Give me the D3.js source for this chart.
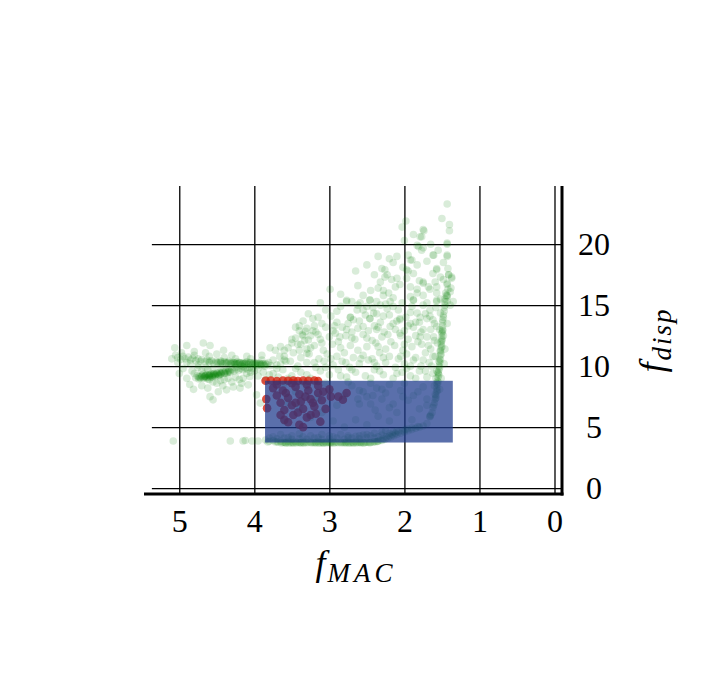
<!DOCTYPE html>
<html><head><meta charset="utf-8">
<script src="https://cdn.jsdelivr.net/npm/d3@7"></script>
<style>html,body{margin:0;padding:0;background:#fff;}svg{display:block;}</style>
</head><body>
<script>
// ---------- data ----------
const xTicks = [5, 4, 3, 2, 1, 0];
const yTicks = [0, 5, 10, 15, 20];
const xLabel = "f", xSub = "MAC";
const yLabel = "f", ySub = "disp";

// feasible region rectangle
const regionX = [3.857, 1.355];
const regionY = [3.74, 8.8];

// green: left horizontal band (upper streak)
const greenBandUpper = [[5.02,10.7],[4.98,10.55],[4.95,10.8],[4.92,10.6],[4.88,10.75],[4.85,10.5],[4.82,10.65],[4.78,10.45],[4.75,10.6],[4.72,10.4],[4.7,10.55],[4.66,10.35],[4.63,10.5],[4.6,10.3],[4.57,10.45],[4.54,10.25],[4.51,10.4],[4.48,10.3],[4.45,10.45],[4.42,10.2],[4.4,10.35],[4.37,10.25],[4.34,10.4],[4.31,10.2],[4.28,10.3],[4.26,10.15],[4.23,10.35],[4.2,10.25],[4.18,10.1],[4.15,10.3],[4.13,10.2],[4.1,10.35],[4.08,10.15],[4.05,10.25],[4.03,10.1],[4.0,10.3],[3.98,10.2],[3.96,10.05],[3.93,10.25],[3.91,10.1],[3.88,10.2],[3.86,10.0],[3.83,10.15],[3.81,10.3],[3.78,10.05],[4.3,10.3],[4.25,10.25],[4.2,10.3],[4.16,10.2],[4.12,10.25],[4.07,10.3],[4.02,10.2],[3.97,10.25],[3.92,10.15],[3.87,10.1],[4.35,10.3],[4.44,10.35],[4.5,10.3],[4.6,10.4],[4.22,10.2],[4.1,10.2],[3.99,10.15],[3.9,10.2],[4.45,10.28],[4.38,10.3],[4.32,10.25],[4.27,10.3],[4.18,10.28],[4.14,10.22],[4.05,10.3],[3.95,10.2],[3.85,10.2],[4.24,10.2]];
// green: left band (lower sloped streak)
const greenBandLower = [[4.78,9.05],[4.76,9.2],[4.74,8.95],[4.72,9.1],[4.7,9.25],[4.68,9.0],[4.66,9.15],[4.64,9.3],[4.62,9.1],[4.6,9.25],[4.58,9.4],[4.56,9.2],[4.54,9.35],[4.52,9.15],[4.5,9.45],[4.48,9.3],[4.46,9.5],[4.44,9.35],[4.42,9.55],[4.4,9.4],[4.38,9.6],[4.36,9.45],[4.34,9.65],[4.32,9.5],[4.3,9.7],[4.27,9.6],[4.24,9.75],[4.21,9.65],[4.18,9.8],[4.15,9.7],[4.12,9.85],[4.09,9.75],[4.06,9.9],[4.03,9.8],[4.7,9.15],[4.65,9.2],[4.6,9.3],[4.55,9.3],[4.5,9.35],[4.45,9.4],[4.4,9.5],[4.35,9.55],[4.68,9.35],[4.62,8.95],[4.58,9.1],[4.52,9.3],[4.66,9.2],[4.62,9.3],[4.58,9.25],[4.54,9.4],[4.49,9.4],[4.44,9.45],[4.72,9.0],[4.64,9.05],[4.56,9.1],[4.48,9.2],[4.74,9.12],[4.67,9.08],[4.6,9.18],[4.53,9.24],[4.46,9.3],[4.39,9.42],[4.33,9.55]];
// green: scatter around the left band
const greenLeftScatter = [[5.06,11.5],[4.9,11.7],[4.68,11.9],[4.59,11.7],[4.41,11.3],[3.79,11.5],[3.72,11.3],[3.75,10.5],[3.7,10.1],[4.9,9.0],[4.86,8.5],[4.81,8.1],[4.59,7.5],[4.55,7.24],[4.48,7.9],[4.37,8.06],[4.28,8.3],[4.19,8.2],[4.08,8.47],[3.97,7.65],[3.92,6.97],[4.15,9.0],[4.06,9.15],[4.17,8.6],[5.0,9.4],[4.95,9.8],[4.83,9.6],[4.75,9.9],[4.62,9.75],[4.55,8.7],[4.45,8.8],[4.35,9.0],[4.25,9.1],[4.3,8.7],[4.1,9.4],[4.0,9.6],[3.95,9.2],[3.88,9.5],[3.85,8.9],[3.8,9.3],[4.5,11.0],[4.3,10.9],[4.1,10.8],[3.9,10.9],[4.8,11.2],[4.65,11.1],[3.66,10.8],[3.6,11.3],[3.7,9.8],[3.6,10.5],[3.55,9.0],[3.65,11.6],[3.5,12.2],[5.05,10.9],[4.97,11.1],[4.85,10.2],[4.75,10.1],[4.65,9.9],[4.55,9.8],[4.45,9.9],[4.35,9.8],[4.25,9.9],[4.15,9.95],[4.05,9.5],[3.95,9.8],[4.9,10.3],[4.8,9.4],[4.7,9.6],[4.6,8.9],[4.5,8.6],[4.4,8.9],[4.2,8.9],[4.25,10.6],[4.05,10.6],[3.9,10.5],[4.4,10.7],[4.6,10.8],[4.8,10.9],[5.1,10.6],[5.02,10.3],[4.7,8.4],[4.62,8.2],[4.42,8.4]];
// green: bottom band near f_disp = 4
const greenBottom = [[5.08,3.87],[4.32,3.87],[4.15,3.87],[4.03,3.87],[3.95,3.87],[4.12,3.9],[3.85,3.95],[3.8,3.85],[3.75,3.9],[3.7,3.8],[3.65,3.85],[3.6,3.75],[3.55,3.8],[3.5,3.72],[3.45,3.78],[3.4,3.72],[3.35,3.75],[3.3,3.72],[3.25,3.76],[3.2,3.73],[3.15,3.78],[3.1,3.74],[3.05,3.77],[3.0,3.73],[2.95,3.78],[2.9,3.74],[2.85,3.77],[2.8,3.73],[2.75,3.76],[2.7,3.74],[2.65,3.78],[2.6,3.75],[2.55,3.73],[2.5,3.77],[2.45,3.74],[2.4,3.8],[2.35,3.85],[2.3,3.9],[2.26,4.0],[2.22,4.1],[2.18,4.2],[2.14,4.3],[2.1,4.4],[2.05,4.5],[2.0,4.6],[1.95,4.7],[1.9,4.8],[1.85,4.9],[1.8,5.0],[3.8,4.1],[3.7,4.05],[3.6,4.1],[3.5,4.0],[3.4,4.05],[3.3,4.0],[3.2,4.1],[3.1,4.0],[3.0,4.05],[2.9,4.1],[2.8,4.0],[2.7,4.1],[2.6,4.05],[2.5,4.15],[2.45,4.3],[2.4,4.1],[2.35,4.2],[2.3,4.35],[2.55,4.35],[2.65,4.25],[2.75,4.3],[3.0,4.3],[3.25,4.3],[3.5,4.3],[2.2,4.5],[2.15,4.6],[2.1,4.7],[3.62,3.74],[3.42,3.76],[3.22,3.74],[3.02,3.76],[2.82,3.75],[2.62,3.74],[2.42,3.76],[3.72,3.78],[3.52,3.74],[3.32,3.77],[3.12,3.73],[2.92,3.76],[2.72,3.73],[2.52,3.75],[2.38,3.8],[3.82,3.78],[3.68,3.76],[3.58,3.73],[3.48,3.76],[3.38,3.74],[3.28,3.75],[3.18,3.76],[3.08,3.73],[2.98,3.75],[2.88,3.73],[2.78,3.76],[2.68,3.75],[2.58,3.77],[2.48,3.74],[2.36,3.83],[2.32,3.95],[2.28,4.05],[2.24,4.2],[2.2,4.3],[2.16,4.4],[2.12,4.5],[2.08,4.6],[2.02,4.7],[1.96,4.85],[1.9,4.95],[1.82,5.05],[1.75,5.1],[1.7,5.3],[3.75,4.2],[3.55,4.15],[3.35,4.2],[3.15,4.15],[2.95,4.2],[2.75,4.15],[2.6,4.3],[2.5,4.4],[2.4,4.5],[2.3,4.6],[2.25,4.7],[2.85,4.4],[3.1,4.4],[3.4,4.45],[3.65,4.4],[3.64,3.7],[3.54,3.69],[3.44,3.7],[3.34,3.69],[3.24,3.7],[3.14,3.69],[3.04,3.7],[2.94,3.69],[2.84,3.7],[2.74,3.69],[2.64,3.7],[2.54,3.71],[2.46,3.72],[3.58,3.7],[3.38,3.71],[3.18,3.7],[2.98,3.71],[2.78,3.7],[2.58,3.71],[3.48,3.69],[3.08,3.69],[2.68,3.69]];
// green: cloud hidden under the region rectangle
const greenInRect = [[3.45,7.9],[3.3,8.3],[3.15,7.4],[3.0,8.0],[2.9,6.8],[2.8,7.6],[2.7,8.4],[2.6,6.9],[2.5,7.5],[2.37,8.2],[2.39,6.4],[2.25,7.8],[2.15,6.9],[2.05,8.0],[1.95,7.2],[1.88,7.6],[1.8,6.5],[1.75,8.3],[1.66,5.9],[1.7,6.8],[1.99,4.8],[2.2,5.5],[2.35,5.9],[2.5,5.2],[2.65,5.6],[2.8,5.0],[2.95,5.5],[3.1,6.2],[3.25,5.8],[3.4,6.5],[3.55,7.0],[3.6,5.5],[2.45,6.9],[2.3,7.3],[2.1,6.2],[1.9,5.6],[2.6,8.0],[2.0,8.6],[2.2,8.5],[2.45,8.6],[2.75,8.7],[3.05,8.6],[3.35,8.7],[3.6,8.6],[2.55,7.9],[2.42,7.6],[2.3,8.1],[2.62,7.3],[2.2,6.6],[2.02,7.5],[1.82,7.9],[1.7,7.3]];
// green: near-vertical column around f_MAC = 1.5
const greenColumn = [[1.66,5.85],[1.63,6.2],[1.62,6.6],[1.6,7.0],[1.59,7.3],[1.58,7.6],[1.57,7.9],[1.57,8.2],[1.56,8.5],[1.56,8.8],[1.55,9.1],[1.55,9.4],[1.54,9.7],[1.54,10.0],[1.53,10.3],[1.53,10.6],[1.52,10.9],[1.52,11.2],[1.51,11.5],[1.51,11.8],[1.5,12.1],[1.5,12.4],[1.5,12.7],[1.49,13.0],[1.49,13.3],[1.49,13.6],[1.48,14.0],[1.47,14.5],[1.46,15.0],[1.46,15.5],[1.45,16.0],[1.58,7.4],[1.56,8.0],[1.55,8.7],[1.54,9.3],[1.53,9.9],[1.52,10.5],[1.51,11.0],[1.5,11.6],[1.5,12.2],[1.49,12.9],[1.6,8.4],[1.58,9.0],[1.57,9.6],[1.47,10.2],[1.46,11.4],[1.48,12.5],[1.43,20.1],[1.43,19.1],[1.42,18.0],[1.41,17.5],[1.43,16.8],[1.42,16.3],[1.44,15.8],[1.43,15.3],[1.37,17.2],[1.38,16.4],[1.65,6.0],[1.61,6.8],[1.59,7.7],[1.57,8.6],[1.55,9.5],[1.54,10.4],[1.52,11.3],[1.51,12.0],[1.5,12.8],[1.49,13.8],[1.47,14.8],[1.46,15.3],[1.53,8.1],[1.51,9.0],[1.59,10.8],[1.56,11.9],[1.53,13.0]];
// green: middle cloud
const greenMid = [[3.35,13.7],[3.22,13.9],[3.1,13.5],[2.98,14.1],[2.9,13.6],[2.72,14.0],[2.6,13.7],[2.46,13.9],[2.32,13.6],[2.2,14.2],[2.1,13.7],[1.98,14.0],[1.85,13.6],[1.7,13.9],[1.6,13.5],[3.4,12.9],[3.3,13.1],[3.18,12.8],[3.05,13.2],[2.95,12.9],[2.83,13.2],[2.7,12.8],[2.62,13.1],[2.48,12.9],[2.4,13.3],[2.27,12.8],[2.12,13.0],[2.0,12.9],[1.88,13.2],[1.78,12.8],[1.65,13.0],[3.45,12.3],[3.33,12.1],[3.25,12.5],[3.12,12.2],[3.0,12.4],[2.88,12.0],[2.78,12.5],[2.66,12.2],[2.55,12.6],[2.43,12.1],[2.3,12.4],[2.18,12.0],[2.05,12.5],[1.95,12.2],[1.82,12.0],[1.7,12.4],[1.6,12.1],[3.55,11.5],[3.42,11.8],[3.3,11.4],[3.2,11.7],[3.08,11.3],[2.96,11.8],[2.85,11.5],[2.72,11.7],[2.62,11.3],[2.5,11.6],[2.38,11.9],[2.25,11.4],[2.13,11.7],[2.02,11.3],[1.9,11.6],[1.77,11.8],[1.65,11.4],[3.6,10.8],[3.48,11.1],[3.38,10.7],[3.27,11.0],[3.14,10.6],[3.03,11.0],[2.9,10.8],[2.8,11.1],[2.68,10.7],[2.55,10.9],[2.43,10.6],[2.33,11.1],[2.2,10.8],[2.08,10.6],[1.97,11.0],[1.85,10.7],[1.72,11.1],[1.62,10.8],[3.65,10.2],[3.52,10.4],[3.42,10.0],[3.3,10.3],[3.18,9.9],[3.07,10.4],[2.95,10.1],[2.83,10.4],[2.73,9.9],[2.6,10.2],[2.48,10.5],[2.37,10.0],[2.25,10.3],[2.12,9.9],[2.0,10.2],[1.88,10.5],[1.78,10.0],[1.67,10.3],[3.75,9.4],[3.62,9.7],[3.5,9.2],[3.38,9.5],[3.25,9.0],[3.12,9.6],[3.0,9.3],[2.88,9.7],[2.77,9.1],[2.65,9.5],[2.52,9.2],[2.4,9.7],[2.28,9.3],[2.15,9.0],[2.03,9.5],[1.92,9.2],[1.8,9.6],[1.7,9.1],[1.62,9.4],[3.32,12.85],[3.28,12.15],[3.3,11.05],[3.35,12.5],[3.25,11.5],[3.22,12.9],[3.38,11.8],[3.2,13.3],[3.4,13.3],[3.15,12.6],[2.77,13.0],[2.86,12.4],[2.68,13.8],[2.55,13.25],[2.37,13.0],[2.19,13.25],[2.06,12.7],[1.92,13.5],[1.75,13.0],[1.57,13.25],[1.43,13.5],[1.79,12.4],[1.61,12.4],[3.28,14.3],[3.05,14.6],[2.85,14.9],[2.62,15.0],[2.42,14.8],[2.25,15.1],[2.08,14.6],[1.9,14.9],[1.72,14.3],[1.58,14.8],[3.45,13.2],[3.15,14.0],[2.93,13.3],[2.75,13.5],[2.52,14.2],[2.35,13.2],[2.15,13.5],[1.95,13.3],[1.8,13.6],[1.62,13.8],[3.5,11.9],[3.36,12.6],[3.1,11.9],[2.92,12.7],[2.7,12.3],[2.5,12.3],[2.35,11.6],[2.22,12.6],[2.0,11.8],[1.85,12.5],[1.68,11.7],[3.58,10.4],[3.4,11.3],[3.2,10.3],[2.98,10.6],[2.78,10.3],[2.58,10.6],[2.4,10.3],[2.28,10.7],[2.05,10.8],[1.92,10.0],[1.75,10.5],[1.64,10.0],[3.68,9.1],[3.45,9.8],[3.3,9.3],[3.05,9.9],[2.85,9.2],[2.7,9.7],[2.45,9.0],[2.33,9.6],[2.1,9.4],[1.97,9.8],[1.85,9.0],[1.72,9.6]];
// green: upper sparse cloud
const greenUpper = [[1.43,23.3],[2.03,21.4],[1.74,21.1],[1.77,20.6],[1.40,21.6],[1.40,21.1],[1.43,20.0],[1.83,19.9],[1.75,19.7],[2.35,19.0],[2.10,19.0],[2.15,18.5],[1.95,19.1],[1.90,18.7],[1.62,19.1],[1.70,18.6],[1.43,19.0],[2.26,17.9],[2.23,17.5],[1.95,17.8],[1.97,17.2],[1.83,18.3],[1.57,18.0],[1.41,17.5],[1.37,17.3],[2.32,16.9],[2.10,17.2],[2.06,16.7],[1.75,16.9],[1.68,16.5],[1.59,16.9],[1.43,16.7],[1.39,16.1],[2.99,16.3],[2.77,15.4],[2.70,15.3],[2.46,15.4],[2.37,15.3],[2.28,15.8],[2.21,16.0],[2.15,15.6],[1.92,15.7],[1.83,16.0],[1.75,15.8],[1.57,16.0],[1.52,15.5],[1.43,15.8],[1.35,15.3],[1.75,21.2],[1.79,20.6],[1.81,19.8],[1.77,19.5],[1.61,19.1],[1.57,17.9],[1.52,17.3],[1.92,18.7],[1.97,17.9],[1.88,17.6],[2.30,18.0],[2.26,17.3],[2.17,17.1],[2.12,16.5],[2.28,16.2],[1.92,16.5],[1.83,16.3],[1.75,16.8],[1.66,16.3],[1.57,16.5],[1.48,17.1],[1.88,15.4],[1.70,15.2],[1.57,15.4],[1.43,15.7],[1.83,14.35],[1.66,14.1],[1.52,14.35],[2.77,15.3],[2.59,15.2],[2.46,15.45],[2.32,15.0],[2.19,15.3],[2.03,15.2],[1.88,15.45],[1.75,15.0],[1.57,15.3],[1.39,15.0],[2.90,14.5],[2.72,14.0],[2.55,14.6],[2.46,13.9],[2.37,14.3],[2.23,14.7],[2.06,13.9],[1.92,14.4],[1.79,14.0],[1.66,14.6],[1.48,14.2],[2.63,14.6],[2.50,14.9],[2.41,14.35],[2.28,14.1],[2.15,14.9],[2.06,13.8],[2.45,16.2],[2.55,15.8],[2.62,16.6],[2.4,17.5],[2.5,18.3],[2.2,18.8],[2.0,20.3],[1.88,20.8],[1.65,20.0],[1.55,19.5],[1.48,18.5],[1.62,17.6],[1.8,17.0],[2.02,18.1],[2.35,16.4],[2.85,15.9],[3.12,15.2],[2.65,17.8],[1.98,21.9],[1.5,22.1]];
// red: selected designs
const redPoints = [[3.85,8.8],[3.78,8.82],[3.7,8.78],[3.62,8.83],[3.55,8.8],[3.48,8.82],[3.42,8.78],[3.35,8.82],[3.28,8.8],[3.2,8.83],[3.15,8.78],[3.83,6.56],[3.84,7.3],[3.75,8.2],[3.7,7.6],[3.65,7.0],[3.6,6.4],[3.62,8.0],[3.55,7.4],[3.5,6.8],[3.48,6.0],[3.45,8.3],[3.4,7.7],[3.38,7.1],[3.35,6.5],[3.3,5.8],[3.28,8.0],[3.25,7.3],[3.2,6.7],[3.18,6.1],[3.15,7.8],[3.1,7.2],[3.05,6.5],[3.0,8.1],[2.98,7.5],[3.55,5.4],[3.4,5.2],[3.6,5.6],[3.12,5.45],[3.35,5.0],[2.88,7.5],[2.77,7.8],[2.82,7.25],[3.7,8.5],[3.5,8.6],[3.3,8.5],[3.15,8.4],[3.45,7.0],[3.65,6.0],[3.25,6.0],[3.58,7.8],[3.42,6.2],[3.22,7.0],[3.08,7.9],[3.32,7.5]];

const greenAll = [].concat(greenBandUpper, greenBandLower, greenLeftScatter, greenBottom, greenInRect, greenColumn, greenMid, greenUpper);

// ---------- drawing ----------
const W = 702, H = 697;
const pL = 144, pR = 562, pT = 186, pB = 494;
const x = d3.scaleLinear().domain([5.47, -0.1]).range([pL, pR]);
const y = d3.scaleLinear().domain([-0.48, 24.77]).range([pB, pT]);
const FONT = "'Liberation Serif', 'DejaVu Serif', serif";

const svg = d3.select("body").append("svg").attr("width", W).attr("height", H)
  .style("font-family", FONT);
svg.append("rect").attr("width", W).attr("height", H).attr("fill", "#fff");

// grid via axes
const gx = svg.append("g").attr("transform", `translate(0,${pB})`)
  .call(d3.axisBottom(x).tickValues(xTicks).tickFormat(d3.format("d"))
    .tickSize(-(pB - pT)).tickPadding(15));
const gridLeft = x(5.365);
const gy = svg.append("g").attr("transform", `translate(${pR},0)`)
  .call(d3.axisRight(y).tickValues(yTicks).tickFormat(d3.format("d"))
    .tickSize(-(pR - gridLeft)).tickPadding(32));
[gx, gy].forEach(g => {
  g.select(".domain").remove();
  g.selectAll(".tick line").attr("stroke", "#000").attr("stroke-width", 1.3);
  g.selectAll(".tick text").attr("fill", "#000").style("font-size", "32px").style("font-family", FONT);
});
gy.selectAll(".tick text").attr("text-anchor", "middle");

// points
svg.append("g").selectAll("circle").data(greenAll).join("circle")
  .attr("cx", d => x(d[0])).attr("cy", d => y(d[1])).attr("r", 3.8)
  .attr("fill", "#008000").attr("fill-opacity", 0.15);
svg.append("g").selectAll("circle").data(redPoints).join("circle")
  .attr("cx", d => x(d[0])).attr("cy", d => y(d[1])).attr("r", 4.3)
  .attr("fill", "#d4200c").attr("fill-opacity", 0.78);

// region rectangle
svg.append("rect")
  .attr("x", x(regionX[0])).attr("y", y(regionY[1]))
  .attr("width", x(regionX[1]) - x(regionX[0]))
  .attr("height", y(regionY[0]) - y(regionY[1]))
  .attr("fill", "#1b378a").attr("fill-opacity", 0.72);

// spines
svg.append("line").attr("x1", pL).attr("x2", pR + 1.5).attr("y1", pB).attr("y2", pB)
  .attr("stroke", "#000").attr("stroke-width", 3);
svg.append("line").attr("x1", pR).attr("x2", pR).attr("y1", pT).attr("y2", pB + 1.5)
  .attr("stroke", "#000").attr("stroke-width", 3);

// axis labels
const xl = svg.append("text").attr("x", (pL + pR) / 2 + 3).attr("y", 575)
  .attr("text-anchor", "middle").attr("fill", "#000").style("font-style", "italic");
xl.append("tspan").style("font-size", "36px").text(xLabel);
xl.append("tspan").style("font-size", "27px").attr("dy", 7).attr("dx", 2)
  .style("letter-spacing", "4px").text(xSub);

const yl = svg.append("text").attr("transform", `translate(664,${(pT + pB) / 2}) rotate(-90)`)
  .attr("text-anchor", "middle").attr("fill", "#000").style("font-style", "italic");
yl.append("tspan").style("font-size", "36px").text(yLabel);
yl.append("tspan").style("font-size", "27px").attr("dy", 7).attr("dx", 2)
  .style("letter-spacing", "2px").text(ySub);
</script>
</body></html>
